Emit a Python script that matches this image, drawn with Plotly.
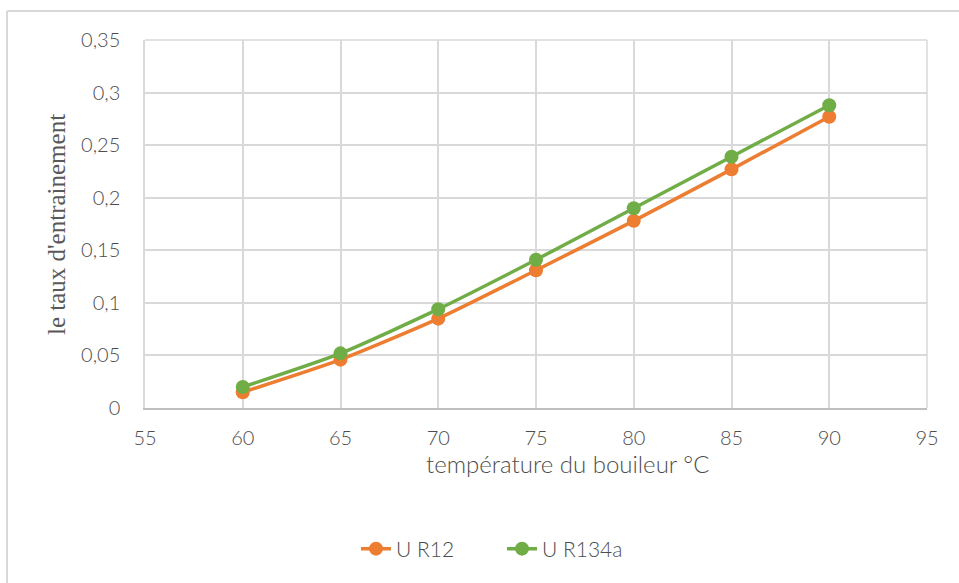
import plotly.graph_objects as go

# Boiler temperature (°C) and entrainment ratio for each refrigerant
temperature = [60, 65, 70, 75, 80, 85, 90]
u_r12 = [0.015, 0.046, 0.085, 0.131, 0.178, 0.227, 0.277]
u_r134a = [0.020, 0.052, 0.094, 0.141, 0.190, 0.239, 0.288]

x_ticks = [55, 60, 65, 70, 75, 80, 85, 90, 95]
y_ticks = [0, 0.05, 0.1, 0.15, 0.2, 0.25, 0.3, 0.35]
y_labels = ["0", "0,05", "0,1", "0,15", "0,2", "0,25", "0,3", "0,35"]

ORANGE = "#ED7D31"
GREEN = "#70AD47"
GRID = "#D9D9D9"
TEXT = "#4D4D4D"
FONT = "Lato, Open Sans, sans-serif"
W_LIGHT = 300

fig = go.Figure()
fig.add_trace(go.Scatter(
    x=temperature, y=u_r12, name="U R12", mode="lines+markers",
    line=dict(color=ORANGE, width=3.5, shape="spline", smoothing=0.6),
    marker=dict(color=ORANGE, size=14),
))
fig.add_trace(go.Scatter(
    x=temperature, y=u_r134a, name="U R134a", mode="lines+markers",
    line=dict(color=GREEN, width=3.5, shape="spline", smoothing=0.6),
    marker=dict(color=GREEN, size=14),
))

L, R, T, B = 145, 32, 40, 175
W, H = 959, 583
pw, ph = W - L - R, H - T - B

def px_x(p):
    return (p - L) / pw

def px_y(p):
    return (H - B - p) / ph

tick_font = dict(family=FONT, size=20, color=TEXT, weight=W_LIGHT)

fig.update_layout(
    width=W, height=H,
    margin=dict(l=L, r=R, t=T, b=B),
    paper_bgcolor="white", plot_bgcolor="white",
    font=dict(family=FONT, color=TEXT, size=20),
    showlegend=True,
    legend=dict(
        orientation="h", x=px_x(356), y=px_y(549), xanchor="left", yanchor="middle",
        font=dict(family=FONT, size=21, color=TEXT, weight=W_LIGHT),
        entrywidth=101, entrywidthmode="pixels",
        bgcolor="rgba(0,0,0,0)", tracegroupgap=0,
    ),
    xaxis=dict(
        range=[55, 95], tickvals=x_ticks, ticktext=[str(v) for v in x_ticks],
        showgrid=True, gridcolor=GRID, gridwidth=1.5,
        showline=True, linecolor="#BFBFBF", linewidth=1.5, mirror=False,
        zeroline=False, ticks="outside", ticklen=11, tickcolor="rgba(0,0,0,0)",
        tickfont=tick_font,
    ),
    yaxis=dict(
        range=[0, 0.35], tickvals=y_ticks, ticktext=y_labels,
        showgrid=True, gridcolor=GRID, gridwidth=1.5,
        showline=True, linecolor=GRID, linewidth=1.5, mirror=False,
        zeroline=False, ticks="outside", ticklen=19, tickcolor="rgba(0,0,0,0)",
        tickfont=tick_font,
    ),
    annotations=[
        dict(text="température du bouileur °C", x=px_x(567), y=px_y(463),
             xref="paper", yref="paper", showarrow=False,
             xanchor="center", yanchor="middle",
             font=dict(family=FONT, size=24, color=TEXT, weight=W_LIGHT)),
        dict(text="le taux d'entrainement", x=px_x(56), y=px_y(225),
             xref="paper", yref="paper", showarrow=False, textangle=-90,
             xanchor="center", yanchor="middle",
             font=dict(family="Liberation Serif, serif", size=25, color="#595959")),
    ],
    shapes=[
        # right and top edges of the plot area
        dict(type="line", xref="paper", yref="paper", x0=1, x1=1, y0=0, y1=1,
             line=dict(color=GRID, width=1.5)),
        dict(type="line", xref="paper", yref="paper", x0=0, x1=1, y0=1, y1=1,
             line=dict(color=GRID, width=1.5)),
        # chart frame (top and left edges)
        dict(type="line", xref="paper", yref="paper", x0=px_x(7), x1=px_x(959),
             y0=px_y(11), y1=px_y(11), line=dict(color="#D9D9D9", width=2)),
        dict(type="line", xref="paper", yref="paper", x0=px_x(7), x1=px_x(7),
             y0=px_y(11), y1=px_y(583), line=dict(color="#D9D9D9", width=2)),
    ],
)

fig.write_html("out.html")
